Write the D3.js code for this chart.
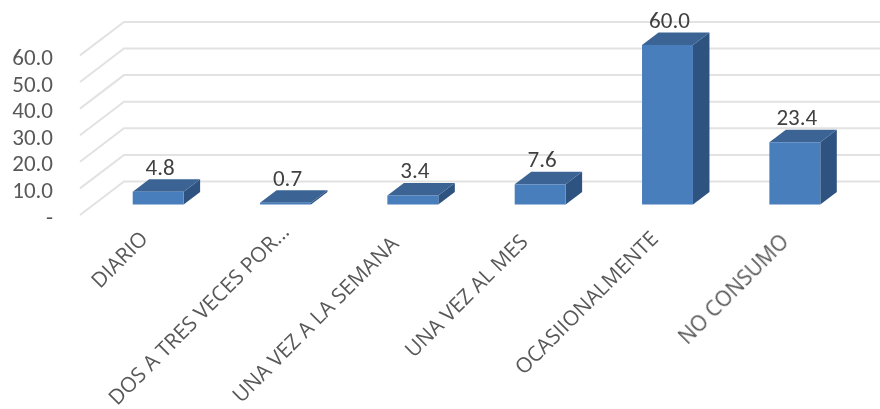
<!DOCTYPE html>
<html><head><meta charset="utf-8">
<script src="https://cdn.jsdelivr.net/npm/d3@7"></script>
<style>html,body{margin:0;padding:0;background:#fff}svg{display:block}</style>
</head><body><svg id="c" width="880" height="409"></svg>
<script>
const categories=["DIARIO","DOS A TRES VECES POR...","UNA VEZ A LA SEMANA","UNA VEZ AL MES","OCASIIONALMENTE","NO CONSUMO"];
const values=[4.8,0.7,3.4,7.6,60.0,23.4];
const valueLabels=["4.8","0.7","3.4","7.6","60.0","23.4"];
const yTicks=[0,10,20,30,40,50,60];
const tickLabels=["-","10.0","20.0","30.0","40.0","50.0","60.0"];
const labelShiftX=[-9,5,-13,-11,-8,-5];
const labelEndY=[240,233,245,243,240,243];

const svg=d3.select("#c");
const defs=svg.append("defs");
defs.append("filter").attr("id","soft").attr("x","-5%").attr("y","-5%").attr("width","110%").attr("height","110%")
  .append("feGaussianBlur").attr("stdDeviation",0.45);
const root=svg.append("g").attr("filter","url(#soft)");

const x=d3.scaleBand().domain(categories).range([94.5,858.5]).paddingInner(0.6).paddingOuter(0.3);
const y=d3.scaleLinear().domain([0,60]).range([204.5,44.9]);
const gridFront={dx:-15,dy:10.5}, gridBack={dx:29,dy:-23};
const depth={dx:16.5,dy:-12.5};

root.append("g").selectAll("path").data(yTicks).join("path")
  .attr("fill","none").attr("stroke","#e2e2e2").attr("stroke-width",2)
  .attr("d",d=>{const v=y(d);return `M${95+gridFront.dx},${v+gridFront.dy}L${95+gridBack.dx},${v+gridBack.dy}H${859+gridBack.dx}`;});

const fontFamily="Carlito, Lato, 'Open Sans', sans-serif";
root.append("g").selectAll("text").data(yTicks).join("text")
  .attr("x",53).attr("y",d=>y(d)+20).attr("text-anchor","end")
  .attr("font-family",fontFamily).attr("font-size",23).attr("fill","#595959")
  .text((d,i)=>tickLabels[i]);

const bars=root.append("g").selectAll("g").data(categories).join("g");
const bx=c=>x(c), bw=x.bandwidth();
const val=i=>values[i];
bars.append("path").attr("fill","#2f5280").attr("d",(c,i)=>{
  const l=bx(c)+bw,t=y(val(i)),b=y(0);
  return `M${l},${b}L${l+depth.dx},${b+depth.dy}V${t+depth.dy}L${l},${t}Z`;});
bars.append("path").attr("fill","#3a6494").attr("d",(c,i)=>{
  const l=bx(c),t=y(val(i));
  return `M${l},${t}L${l+depth.dx},${t+depth.dy}H${l+bw+depth.dx}L${l+bw},${t}Z`;});
bars.append("rect").attr("fill","#4a7ebc").attr("x",c=>bx(c)).attr("width",bw)
  .attr("y",(c,i)=>y(val(i))).attr("height",(c,i)=>y(0)-y(val(i)));

root.append("g").selectAll("text").data(categories).join("text")
  .attr("x",c=>bx(c)+bw/2+2).attr("y",(c,i)=>y(val(i))-17)
  .attr("text-anchor","middle").attr("font-family",fontFamily).attr("font-size",23).attr("fill","#404040")
  .text((c,i)=>valueLabels[i]);

root.append("g").selectAll("text").data(categories).join("text")
  .attr("transform",(c,i)=>`translate(${bx(c)+bw/2+labelShiftX[i]},${labelEndY[i]}) rotate(-45)`)
  .attr("text-anchor","end").attr("font-family","'Open Sans', sans-serif").attr("font-size",21).attr("fill","#595959")
  .text(c=>c);
</script></body></html>
